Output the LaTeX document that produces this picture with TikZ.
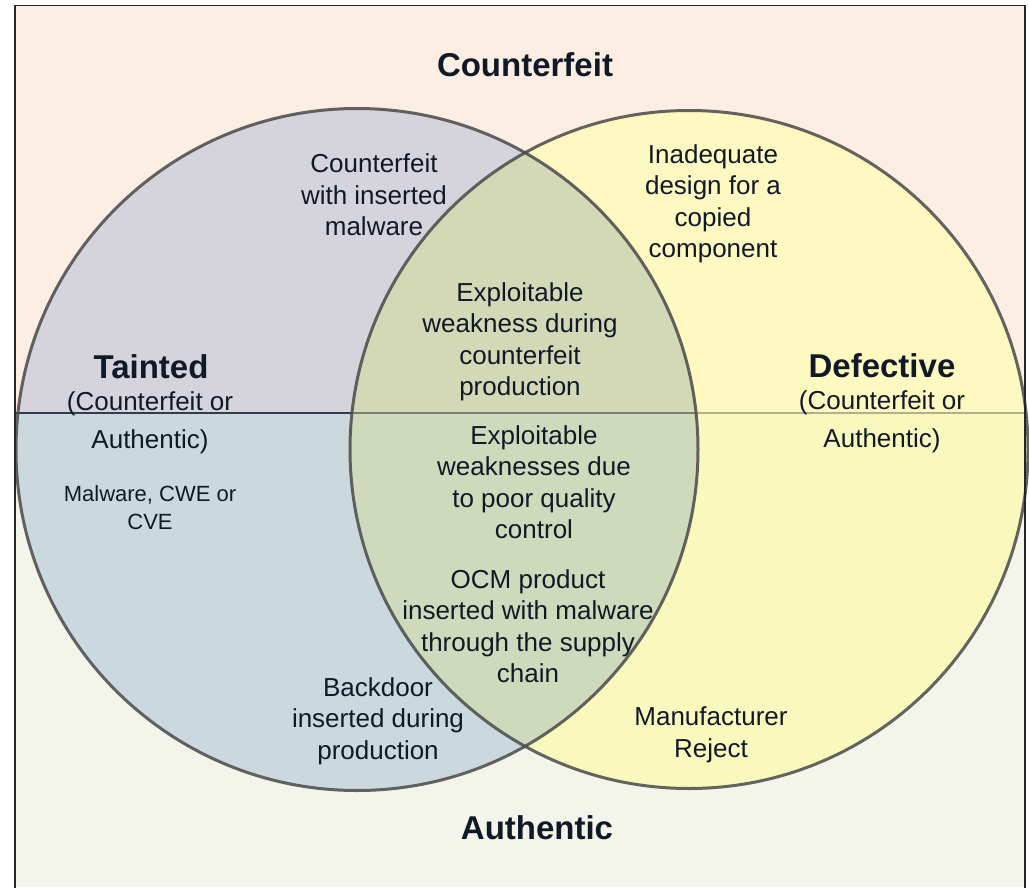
\documentclass[tikz,border=0pt]{standalone}
\usepackage{fontspec}
\setmainfont{Liberation Sans}
\definecolor{peach}{HTML}{FDEEE3}
\definecolor{sage}{HTML}{F3F5EB}
\definecolor{lavtop}{HTML}{D5D3DB}
\definecolor{lavbot}{HTML}{CBD8DE}
\definecolor{yeltop}{HTML}{FEF8C1}
\definecolor{yelbot}{HTML}{F9F9BE}
\definecolor{mixtop}{HTML}{D3D9B6}
\definecolor{mixbot}{HTML}{CFDABC}
\definecolor{rim}{HTML}{4A4A4A}
\definecolor{divider}{HTML}{2F3D4F}
\definecolor{dividermix}{HTML}{75806F}
\definecolor{divideryel}{HTML}{B3B187}
\definecolor{ink}{HTML}{101A27}
\begin{document}
\begin{tikzpicture}[x=1pt,y=-1pt,
  txt/.style={align=center, text=ink, inner sep=0pt, font=\fontsize{26}{31.5}\selectfont},
  subtxt/.style={align=center, text=ink, inner sep=0pt, font=\fontsize{26}{38}\selectfont},
  smalltxt/.style={align=center, text=ink, inner sep=0pt, font=\fontsize{22}{28}\selectfont},
  heading/.style={text=ink, inner sep=0pt, font=\fontsize{33}{38}\selectfont\bfseries},
  rimline/.style={draw=rim, line width=3pt, draw opacity=0.85}]
\useasboundingbox (0,0) rectangle (1029,887);
\fill[white] (0,0) rectangle (1029,887);

% the two halves of the frame
\fill[peach] (15,5.5) rectangle (1025,413);
\fill[sage] (15,413) rectangle (1025,887);

% Tainted circle
\begin{scope}
  \clip (357,449.5) circle[radius=341pt];
  \fill[lavtop] (0,0) rectangle (1029,413);
  \fill[lavbot] (0,413) rectangle (1029,887);
\end{scope}

% Defective circle
\begin{scope}
  \clip (689,449.5) circle[radius=339pt];
  \fill[yeltop] (0,0) rectangle (1029,413);
  \fill[yelbot] (0,413) rectangle (1029,887);
\end{scope}

% overlap of the two circles
\begin{scope}
  \clip (357,449.5) circle[radius=341pt];
  \clip (689,449.5) circle[radius=339pt];
  \fill[mixtop] (0,0) rectangle (1029,413);
  \fill[mixbot] (0,413) rectangle (1029,887);
\end{scope}

% counterfeit / authentic divider
\coordinate (divL) at (15,413);
\coordinate (divR) at (1025,413);
\draw[divider, line width=1.8pt] (divL) -- (divR);
\begin{scope}
  \clip (689,449.5) circle[radius=339pt];
  \draw[divideryel, line width=1.8pt] (divL) -- (divR);
  \clip (357,449.5) circle[radius=341pt];
  \draw[dividermix, line width=1.8pt] (divL) -- (divR);
\end{scope}

% circle outlines
\draw[rimline] (357,449.5) circle[radius=341pt];
\draw[rimline] (689,449.5) circle[radius=339pt];

% outer frame
\draw[black!85, line width=1.5pt] (15,895) -- (15,5.5) -- (1025,5.5) -- (1025,895);

% labels
\node[heading] (counterfeit) at (525,65) {Counterfeit};
\node[heading] (authentic) at (537,828) {Authentic};
\node[txt] (fakemalware) at (374,195) {Counterfeit\\with inserted\\malware};
\node[txt] (design) at (713,204) {Inadequate\\design for a\\copied\\component};
\node[txt] (fakeweak) at (520,342) {Exploitable\\weakness during\\counterfeit\\production};
\node[heading] (tainted) at (151,367) {Tainted};
\node[subtxt] (taintedsub) at (150,423) {(Counterfeit or\\Authentic)};
\node[heading] (defective) at (882,366) {Defective};
\node[subtxt] (defectivesub) at (882,422) {(Counterfeit or\\Authentic)};
\node[smalltxt] (cwe) at (150,508) {Malware, CWE or\\CVE};
\node[txt] (quality) at (534,482) {Exploitable\\weaknesses due\\to poor quality\\control};
\node[txt] (ocm) at (528,626) {OCM product\\inserted with malware\\through the supply\\chain};
\node[txt] (backdoor) at (378,721) {Backdoor\\inserted during\\production};
\node[txt] (reject) at (711,735) {Manufacturer\\Reject};
\end{tikzpicture}
\end{document}
